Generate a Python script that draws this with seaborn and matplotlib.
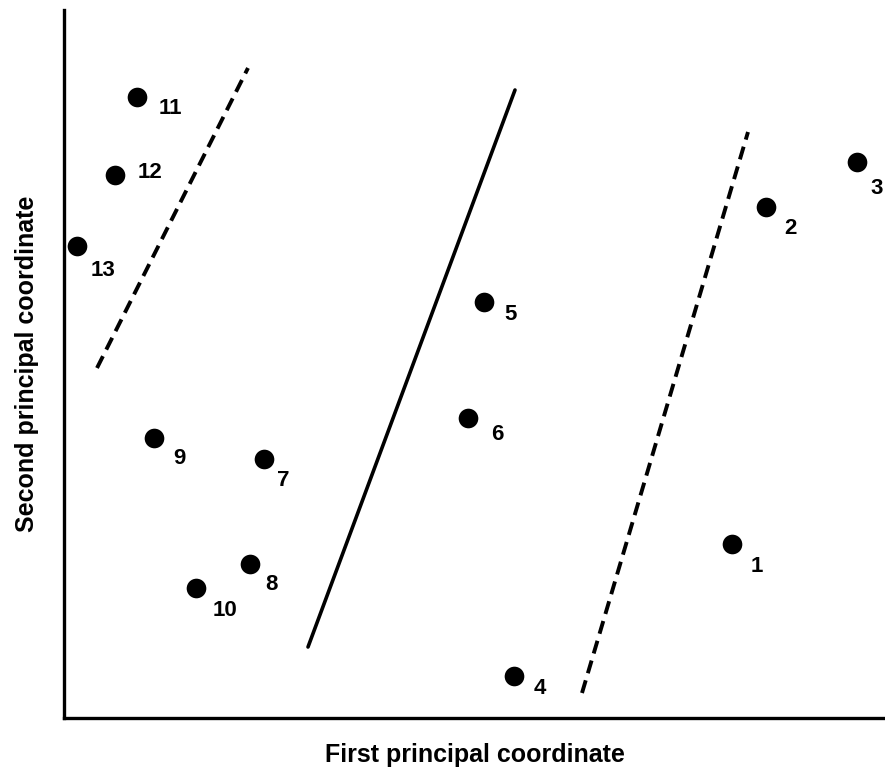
import matplotlib
matplotlib.use("Agg")
import matplotlib.pyplot as plt
import seaborn as sns
import pandas as pd

# Sample positions on the first two principal coordinates
site_ids = ["1", "2", "3", "4", "5", "6", "7", "8", "9", "10", "11", "12", "13"]
pc1 = [668, 702, 793, 450, 420, 404, 200, 186, 90, 132, 73, 51, 13]
pc2 = [174, 511, 556, 42, 416, 300, 259, 154, 280, 130, 621, 543, 472]

# Group boundaries: (x0, x1), (y0, y1)
left_bound_x = [33, 184]
left_bound_y = [350, 650]
mid_bound_x = [244, 451]
mid_bound_y = [71, 628]
right_bound_x = [518, 684]
right_bound_y = [25, 586]

points = pd.DataFrame({"site": site_ids, "pc1": pc1, "pc2": pc2})

# label offsets in pixels (dx right, dy down)
label_offsets = {
    "1": (25, 22), "2": (24, 22), "3": (20, 26), "4": (26, 12),
    "5": (27, 12), "6": (29, 16), "7": (19, 21), "8": (21, 20),
    "9": (25, 21), "10": (29, 22), "11": (33, 11), "12": (35, -2),
    "13": (26, 24),
}

sns.set_style("white")
plt.rcParams["font.family"] = ["Liberation Sans", "DejaVu Sans"]
plt.rcParams["text.color"] = "black"
plt.rcParams["axes.labelcolor"] = "black"

fig = plt.figure(figsize=(8.85, 7.71), dpi=100)
ax = fig.add_axes([64 / 885, 53 / 771, 821 / 885, 708 / 771])

sns.scatterplot(data=points, x="pc1", y="pc2", color="black", s=200,
                edgecolor="black", linewidth=0, ax=ax, zorder=3)

ax.plot(left_bound_x, left_bound_y, color="black", lw=2.8,
        dashes=(3.4, 1.9), dash_capstyle="butt")
ax.plot(mid_bound_x, mid_bound_y, color="black", lw=2.6)
ax.plot(right_bound_x, right_bound_y, color="black", lw=2.8,
        dashes=(3.4, 1.9), dash_capstyle="butt")

for _, row in points.iterrows():
    dx, dy = label_offsets[row["site"]]
    ax.annotate(row["site"], (row["pc1"], row["pc2"]),
                xytext=(dx * 0.72, -dy * 0.72), textcoords="offset points",
                ha="center", va="center", fontsize=16, fontweight="bold",
                color="black")

ax.set_xlim(0, 821)
ax.set_ylim(0, 708)
ax.set_xticks([])
ax.set_yticks([])
sns.despine(ax=ax, top=True, right=True)
for side in ["left", "bottom"]:
    ax.spines[side].set_linewidth(2.4)
    ax.spines[side].set_color("black")

ax.set_xlabel("First principal coordinate", fontsize=18, fontweight="bold", labelpad=18)
ax.set_ylabel("Second principal coordinate", fontsize=18, fontweight="bold", labelpad=18)

fig.savefig("out.png", dpi=100)
